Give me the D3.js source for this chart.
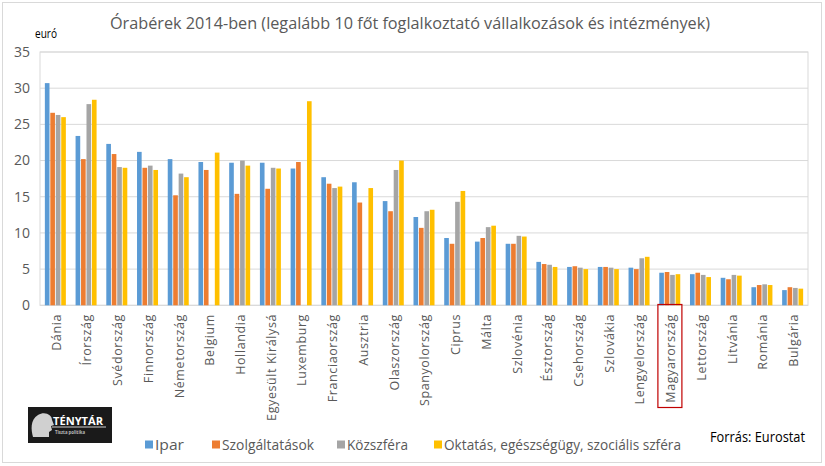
<!DOCTYPE html>
<html><head><meta charset="utf-8">
<script src="https://cdn.jsdelivr.net/npm/d3@7"></script>
<style>body{margin:0;background:#fff}svg{display:block}text{font-family:"Open Sans",sans-serif}</style>
</head><body>
<svg id="c" width="825" height="466"></svg>
<script>
const categories = ["Dánia","Írország","Svédország","Finnország","Németország","Belgium","Hollandia","Egyesült Királysá","Luxemburg","Franciaország","Ausztria","Olaszország","Spanyolország","Ciprus","Málta","Szlovénia","Észtország","Csehország","Szlovákia","Lengyelország","Magyarország","Lettország","Litvánia","Románia","Bulgária"];
const seriesNames = ["Ipar","Szolgáltatások","Közszféra","Oktatás, egészségügy, szociális szféra"];
const ipar =      [30.7,23.4,22.3,21.2,20.2,19.8,19.7,19.7,18.9,17.7,17.0,14.4,12.2,9.3,8.8,8.5,6.0,5.3,5.3,5.2,4.5,4.3,3.8,2.5,2.1];
const szolg =     [26.6,20.2,20.9,19.0,15.2,18.7,15.4,16.1,19.8,16.8,14.2,13.0,10.7,8.5,9.3,8.5,5.7,5.4,5.3,5.0,4.6,4.5,3.6,2.8,2.5];
const kozszfera = [26.3,27.8,19.1,19.3,18.2,null,20.0,19.0,null,16.2,null,18.7,13.0,14.3,10.8,9.6,5.6,5.2,5.2,6.5,4.2,4.2,4.2,2.9,2.4];
const oktatas =   [26.0,28.4,19.0,18.7,17.7,21.1,19.3,18.9,28.2,16.4,16.2,20.0,13.2,15.8,11.0,9.5,5.3,5.0,5.0,6.7,4.3,3.9,4.1,2.8,2.3];
const yTicks = [0,5,10,15,20,25,30,35];
const colors = ["#5B9BD5","#ED7D31","#A5A5A5","#FFC000"];
const highlight = "Magyarország";

const series = [ipar, szolg, kozszfera, oktatas];
const svg = d3.select("#c");
const L = 40, R = 808, T = 52, B = 305.3;

// outer border
svg.append("rect").attr("x",2.5).attr("y",2.5).attr("width",819).attr("height",460)
  .attr("fill","none").attr("stroke","#D9D9D9");

const x0 = d3.scaleBand().domain(categories).range([L,R]).paddingInner(0).paddingOuter(0);
const x1 = d3.scaleBand().domain(d3.range(4)).range([0,21]).paddingInner(0.15);
const y = d3.scaleLinear().domain([0,35]).range([B,T]);

// gridlines
svg.append("g").selectAll("line").data(yTicks).join("line")
  .attr("x1",L).attr("x2",R).attr("y1",d=>y(d)).attr("y2",d=>y(d))
  .attr("stroke","#D9D9D9").attr("stroke-width",1);
// plot border
svg.append("rect").attr("x",L).attr("y",T).attr("width",R-L).attr("height",B-T)
  .attr("fill","none").attr("stroke","#D9D9D9");

// y labels
svg.append("g").selectAll("text").data(yTicks).join("text")
  .attr("x",30).attr("y",d=>y(d)).attr("dy","0.35em").attr("text-anchor","end")
  .attr("font-size",14).attr("fill","#595959").text(d=>d);

// bars
const off = (x0.bandwidth()-21)/2;
const g = svg.append("g");
categories.forEach((c,i)=>{
  series.forEach((s,j)=>{
    const v = s[i];
    if(v==null) return;
    g.append("rect").attr("x",x0(c)+off+x1(j)).attr("width",x1.bandwidth())
      .attr("y",y(v)).attr("height",y(0)-y(v)).attr("fill",colors[j]);
  });
});

// x labels
svg.append("g").selectAll("text").data(categories).join("text")
  .attr("transform",d=>`translate(${x0(d)+x0.bandwidth()/2+1},314) rotate(-90)`)
  .attr("text-anchor","end").attr("dy","0.35em").attr("font-size",12.5)
  .attr("letter-spacing","0.6").attr("fill","#595959").text(d=>d);

// highlight box
svg.append("rect").attr("x",x0(highlight)+3.5).attr("y",304.5).attr("width",24).attr("height",103)
  .attr("fill","none").attr("stroke","#C00000").attr("stroke-width",1.2);

// title
svg.append("text").attr("x",410).attr("y",29).attr("text-anchor","middle")
  .attr("font-size",17).attr("fill","#595959").attr("textLength",600).attr("lengthAdjust","spacingAndGlyphs")
  .text("Órabérek 2014-ben (legalább 10 főt foglalkoztató vállalkozások és intézmények)");
svg.append("text").attr("x",35).attr("y",38).attr("font-size",13).attr("fill","#000")
  .attr("textLength",22).attr("lengthAdjust","spacingAndGlyphs").text("euró");

// legend
const legX = [145,212,337,434];
const legW = [29,92,61,237];
seriesNames.forEach((n,j)=>{
  svg.append("rect").attr("x",legX[j]).attr("y",440.5).attr("width",8).attr("height",8).attr("fill",colors[j]);
  svg.append("text").attr("x",legX[j]+10).attr("y",450).attr("font-size",15).attr("fill","#595959")
    .attr("textLength",legW[j]).attr("lengthAdjust","spacingAndGlyphs").text(n);
});
svg.append("text").attr("x",710).attr("y",442).attr("font-size",14).attr("fill","#000")
  .attr("textLength",95).attr("lengthAdjust","spacingAndGlyphs").text("Forrás: Eurostat");

// logo
const lg = svg.append("g");
lg.append("rect").attr("x",28).attr("y",407).attr("width",84).attr("height",36).attr("fill","#1a1a1a");
lg.append("path").attr("d","M33,437 C31,430 30,420 38,415 C45,411 52,415 52,420 L54,425 L51,426 L52,430 L49,432 L49,437 Z")
  .attr("fill","#d0d0d0");
lg.append("line").attr("x1",52).attr("x2",106).attr("y1",427).attr("y2",427).attr("stroke","#cfcfcf").attr("stroke-width",1);
lg.append("text").attr("x",53).attr("y",425).attr("font-size",10).attr("font-weight","bold").attr("fill","#fff")
  .attr("textLength",50).attr("lengthAdjust","spacingAndGlyphs").text("TÉNYTÁR");
lg.append("text").attr("x",55).attr("y",434).attr("font-size",5).attr("font-weight","bold").attr("fill","#bbb")
  .attr("textLength",30).attr("lengthAdjust","spacingAndGlyphs").text("Tiszta politika");
</script>
</body></html>
